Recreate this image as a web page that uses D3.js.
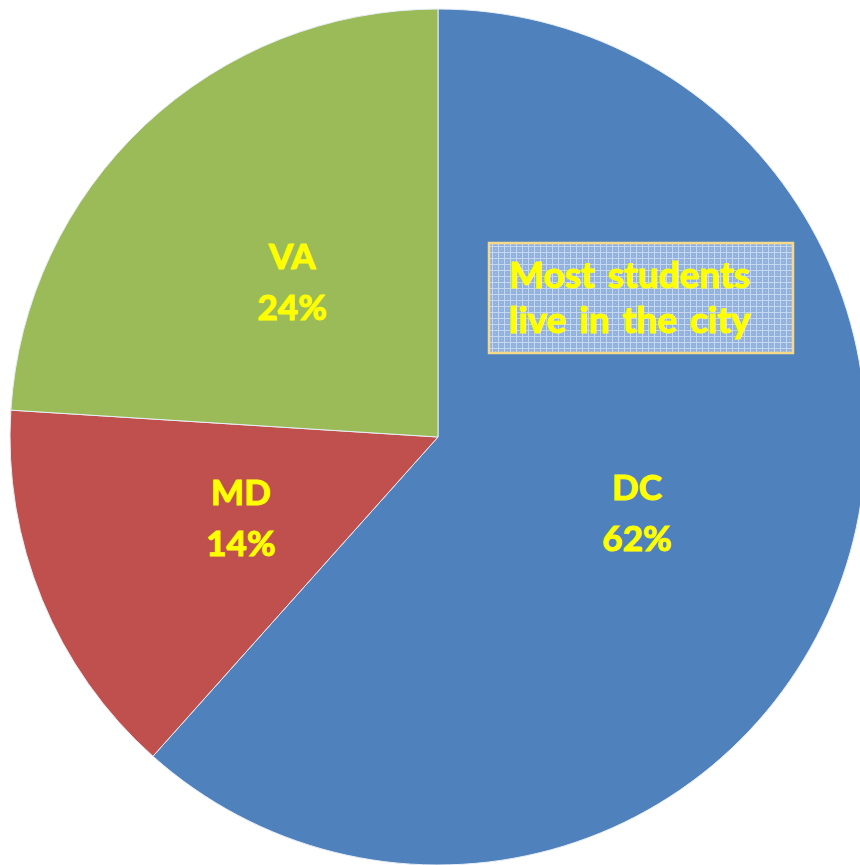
<!DOCTYPE html>
<html>
<head>
<meta charset="utf-8">
<script src="https://cdn.jsdelivr.net/npm/d3@7"></script>
<style>
  html, body { margin: 0; padding: 0; background: #fff; }
  svg { display: block; }
</style>
</head>
<body>
<svg id="chart"></svg>
<script>
  'use strict'
  // data (slice sizes, labels are rounded)
  const states = ['DC', 'MD', 'VA']
  const shares = [61.6, 14.4, 24.0]
  const stateColors = ['#4F81BD', '#C0504D', '#9BBB59']
  const noteLines = ['Most students', 'live in the city']

  const W = 860
  const H = 865
  const cx = 438
  const cy = 437
  const R = 428

  const svg = d3.select('#chart').attr('width', W).attr('height', H)

  // grid texture for the note box
  const defs = svg.append('defs')
  const pat = defs.append('pattern')
    .attr('id', 'grid')
    .attr('width', 6).attr('height', 6)
    .attr('patternUnits', 'userSpaceOnUse')
  pat.append('rect').attr('width', 6).attr('height', 6).attr('fill', '#92B2DD')
  pat.append('rect').attr('x', 0).attr('y', 0).attr('width', 6).attr('height', 1).attr('fill', '#C6D8EF')
  pat.append('rect').attr('x', 0).attr('y', 0).attr('width', 1).attr('height', 6).attr('fill', '#C6D8EF')
  pat.append('rect').attr('x', 3).attr('y', 3).attr('width', 1).attr('height', 1).attr('fill', '#AAC3E6')

  const data = states.map((s, i) => ({ name: s, value: shares[i], color: stateColors[i] }))

  const pie = d3.pie().sort(null).value(d => d.value)
  const arc = d3.arc().innerRadius(0).outerRadius(R)
  const labelArc = d3.arc().innerRadius(213).outerRadius(213)

  const g = svg.append('g').attr('transform', `translate(${cx},${cy})`)

  const slices = pie(data)

  g.selectAll('path.slice')
    .data(slices)
    .enter()
    .append('path')
    .attr('class', 'slice')
    .attr('d', arc)
    .attr('fill', d => d.data.color)
    .attr('stroke', '#E8EEF6')
    .attr('stroke-width', 1)

  // labels
  const labels = g.selectAll('text.lbl')
    .data(slices)
    .enter()
    .append('text')
    .attr('class', 'lbl')
    .attr('transform', d => `translate(${labelArc.centroid(d)})`)
    .attr('text-anchor', 'middle')
    .style('font-family', 'Lato, "Open Sans", sans-serif')
    .style('font-weight', 'bold')
    .style('font-size', '35px')
    .attr('fill', '#FFFF00')
    .attr('stroke', '#FFFF00')
    .attr('stroke-width', 1.1)

  labels.append('tspan').attr('x', 0).attr('y', -13).text(d => d.data.name)
  labels.append('tspan').attr('x', 0).attr('y', 38).text(d => Math.round(d.data.value) + '%')

  // note box
  const note = svg.append('g')
  note.append('rect')
    .attr('x', 489).attr('y', 243)
    .attr('width', 304).attr('height', 110)
    .attr('fill', 'url(#grid)')
    .attr('stroke', '#F7D98A')
    .attr('stroke-width', 2.5)

  note.append('text')
    .style('font-family', 'Lato, "Open Sans", sans-serif')
    .style('font-weight', 'bold')
    .style('font-size', '37px')
    .style('word-spacing', '4px')
    .attr('fill', '#FFFF00')
    .attr('stroke', '#FFFF00')
    .attr('stroke-width', 1.1)
    .selectAll('tspan')
    .data(noteLines)
    .enter()
    .append('tspan')
    .attr('x', 509)
    .attr('y', (d, i) => 288 + i * 45)
    .text(d => d)
</script>
</body>
</html>
